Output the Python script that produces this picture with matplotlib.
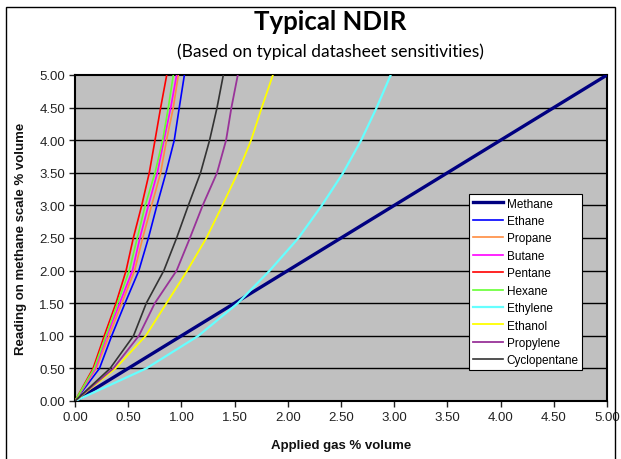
import matplotlib
matplotlib.use("Agg")
import matplotlib.pyplot as plt
from matplotlib.patches import Rectangle

# Reading on methane scale (% volume) at which each curve is sampled
reading = [0.0, 0.5, 1.0, 1.5, 2.0, 2.5, 3.0, 3.5, 4.0, 4.5, 5.0]

# Applied gas % volume for each gas at those readings
methane      = [0.0, 0.5, 1.0, 1.5, 2.0, 2.5, 3.0, 3.5, 4.0, 4.5, 5.0]
ethane       = [0.0, 0.23, 0.345, 0.47, 0.60, 0.69, 0.77, 0.855, 0.933, 0.98, 1.028]
propane      = [0.0, 0.20, 0.32, 0.44, 0.56, 0.636, 0.72, 0.805, 0.86, 0.924, 0.971]
butane       = [0.0, 0.19, 0.30, 0.42, 0.54, 0.61, 0.69, 0.774, 0.836, 0.90, 0.955]
pentane      = [0.0, 0.17, 0.275, 0.385, 0.48, 0.548, 0.627, 0.698, 0.752, 0.805, 0.862]
hexane       = [0.0, 0.18, 0.29, 0.40, 0.51, 0.585, 0.66, 0.752, 0.824, 0.877, 0.924]
ethylene     = [0.0, 0.67, 1.16, 1.53, 1.83, 2.10, 2.32, 2.52, 2.69, 2.835, 2.967]
ethanol      = [0.0, 0.38, 0.665, 0.86, 1.055, 1.235, 1.385, 1.53, 1.655, 1.755, 1.86]
propylene    = [0.0, 0.36, 0.60, 0.75, 0.955, 1.08, 1.20, 1.335, 1.42, 1.47, 1.53]
cyclopentane = [0.0, 0.33, 0.55, 0.67, 0.835, 0.955, 1.065, 1.18, 1.265, 1.335, 1.394]

names = ["Methane", "Ethane", "Propane", "Butane", "Pentane", "Hexane",
         "Ethylene", "Ethanol", "Propylene", "Cyclopentane"]
series = [methane, ethane, propane, butane, pentane, hexane,
          ethylene, ethanol, propylene, cyclopentane]
colors = ["#000080", "#0000FF", "#FF8C40", "#FF00FF", "#FF0000", "#66FF33",
          "#66FFFF", "#FFFF00", "#993399", "#333333"]
widths = [2.4, 1.2, 1.2, 1.2, 1.2, 1.2, 1.6, 1.3, 1.3, 1.2]

xticks = [0.0, 0.5, 1.0, 1.5, 2.0, 2.5, 3.0, 3.5, 4.0, 4.5, 5.0]
yticks = [0.0, 0.5, 1.0, 1.5, 2.0, 2.5, 3.0, 3.5, 4.0, 4.5, 5.0]

W, H = 621, 460
fig = plt.figure(figsize=(W / 100, H / 100), dpi=100)
fig.patch.set_facecolor("white")

# outer frame
fig.patches.append(Rectangle((6 / W, -0.01), (615 - 6) / W, 1 - 8 / H + 0.01,
                             transform=fig.transFigure, fill=False,
                             edgecolor="black", linewidth=1.0))

L, R, T, B = 75, 607, 76, 402
ax = fig.add_axes([L / W, (H - B) / H, (R - L) / W, (B - T) / H])
ax.set_facecolor("#C0C0C0")

for ys in yticks[1:-1]:
    ax.axhline(ys, color="black", linewidth=1.0, zorder=1)

for name, xs, c, lw in zip(names, series, colors, widths):
    ax.plot(xs, reading, color=c, linewidth=lw, label=name, zorder=3)

ax.set_xlim(0, 5)
ax.set_ylim(0, 5)
ax.set_xticks(xticks)
ax.set_yticks(yticks)
ax.set_xticklabels([f"{v:.2f}" for v in xticks])
ax.set_yticklabels([f"{v:.2f}" for v in yticks])
ax.tick_params(direction="out", length=4, width=1, labelsize=9.5,
               colors="#222222", pad=3)
for lab in ax.get_xticklabels() + ax.get_yticklabels():
    lab.set_fontfamily("Liberation Sans")
for s in ax.spines.values():
    s.set_linewidth(1.5)
    s.set_color("black")

ax.set_xlabel("Applied gas % volume", fontfamily="Liberation Sans",
              fontweight="bold", fontsize=9.5, labelpad=12, color="#111111")
ax.set_ylabel("Reading on methane scale % volume", fontfamily="Liberation Sans",
              fontweight="bold", fontsize=9.5, labelpad=9, color="#111111")

leg = ax.legend(loc="upper left", bbox_to_anchor=((469 - L) / (R - L), (B - 195) / (B - T)),
                prop={"family": "Liberation Sans", "size": 8.5},
                frameon=True, fancybox=False, framealpha=1, edgecolor="black",
                borderaxespad=0, handlelength=2.6, handletextpad=0.3,
                labelspacing=0.46, borderpad=0.3)
leg.get_frame().set_linewidth(0.8)
leg.set_zorder(5)

fig.text(330 / W, 1 - 22 / H, "Typical NDIR", ha="center", va="center",
         fontfamily="Lato", fontweight="bold", fontsize=18.5)
fig.text(330 / W, 1 - 52 / H, "(Based on typical datasheet sensitivities)",
         ha="center", va="center", fontfamily="Lato", fontsize=12.5)

fig.savefig("out.png", dpi=100)
